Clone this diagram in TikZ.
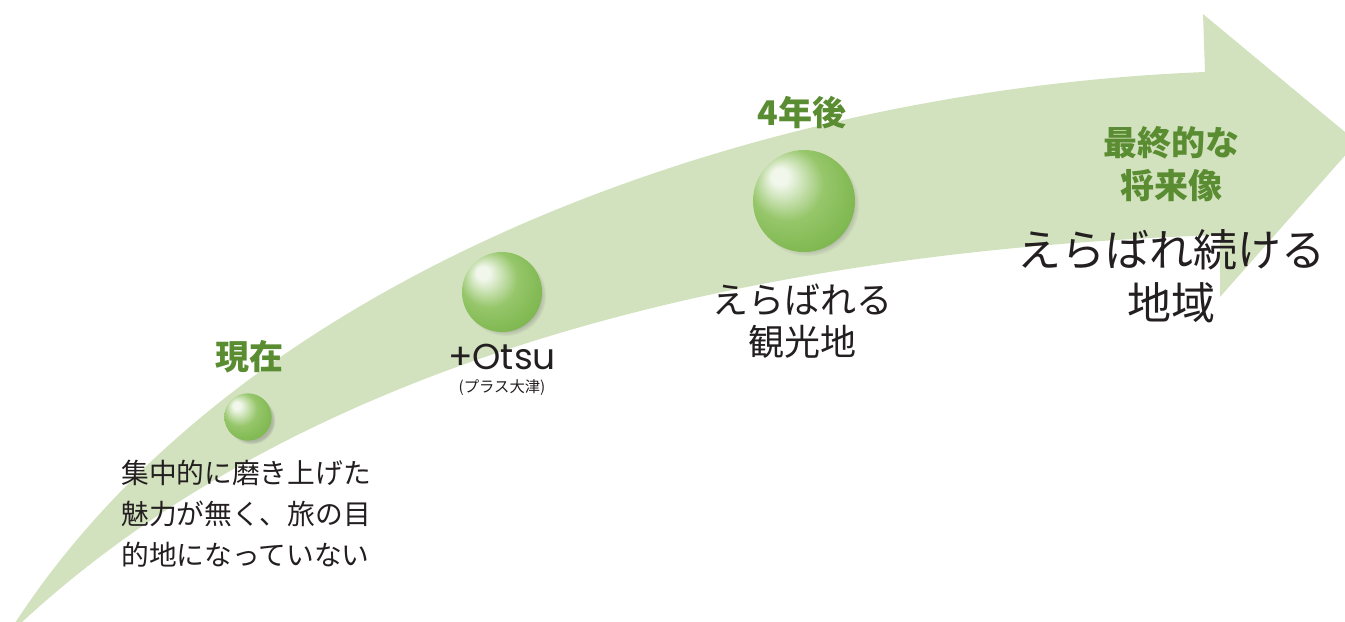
\documentclass[tikz,border=0pt]{standalone}
\usepackage{fontspec}
\newfontfamily\jp{Noto Sans CJK JP}
\newfontfamily\latn{Poppins}
\usetikzlibrary{shadows}
\definecolor{arrowgreen}{HTML}{D3E2BE}
\definecolor{labelgreen}{HTML}{5A8C32}
\definecolor{textblack}{HTML}{231F20}
\definecolor{gHi}{HTML}{F2F7EC}
\definecolor{gMid}{HTML}{96C66A}
\definecolor{gEdge}{HTML}{6FAE3E}
\pgfdeclareradialshading{greenball}{\pgfpoint{-13bp}{13bp}}{%
  color(0bp)=(gHi); color(4bp)=(gHi); color(18bp)=(gMid); color(40bp)=(gEdge); color(50bp)=(gEdge)}
\tikzset{
  ball/.style={circle, inner sep=0pt, shading=greenball,
    circular drop shadow={shadow xshift=2.5pt, shadow yshift=-2.5pt, opacity=0.45, shadow scale=1.02}},
  greenlabel/.style={text=labelgreen, inner sep=0pt, font=\jp\bfseries\fontsize{25.5}{32}\selectfont, align=center},
  bigtext/.style={text=textblack, inner sep=0pt, align=center},
}
\begin{document}
\begin{tikzpicture}[x=0.75pt,y=-0.75pt]
\useasboundingbox (0,0) rectangle (1345,621);
% the big curved arrow
\fill[arrowgreen] (15,623) .. controls (246,269) and (755,90) .. (1205,72)
  -- (1203,14) -- (1357,142) -- (1220,297) -- (1220,235)
  .. controls (770,250) and (316,350) .. (21,623) -- cycle;
% spheres
\node[ball, minimum size=35.5pt] (s1) at (248,417) {};
\node[ball, minimum size=60pt] (s2) at (502,292) {};
\node[ball, minimum size=76.5pt] (s3) at (804,201) {};
% labels
\node[greenlabel] (now) at (249,357) {現在};
\node[text=textblack, inner sep=0pt, anchor=west, align=left,
  font=\jp\fontsize{20.8}{30.75}\selectfont] (nowtext) at (121,514)
  {集中的に磨き上げた\\魅力が無く、旅の目\\的地になっていない};
\node[text=textblack, inner sep=0pt, font=\latn\fontsize{27}{30}\selectfont] (otsu) at (502,357) {+Otsu};
\node[text=textblack, inner sep=0pt, font=\jp\fontsize{11.5}{14}\selectfont] (otsujp) at (502,388) {(プラス大津)};
\node[greenlabel] (four) at (802,113) {4年後};
\node[bigtext, font=\jp\fontsize{27}{31.5}\selectfont] (mid) at (802,321) {えらばれる\\観光地};
\node[greenlabel] (final) at (1171,164) {最終的な\\将来像};
\node[bigtext, font=\jp\fontsize{33}{39.75}\selectfont] (goal) at (1171,276) {えらばれ続ける\\地域};
\end{tikzpicture}
\end{document}
